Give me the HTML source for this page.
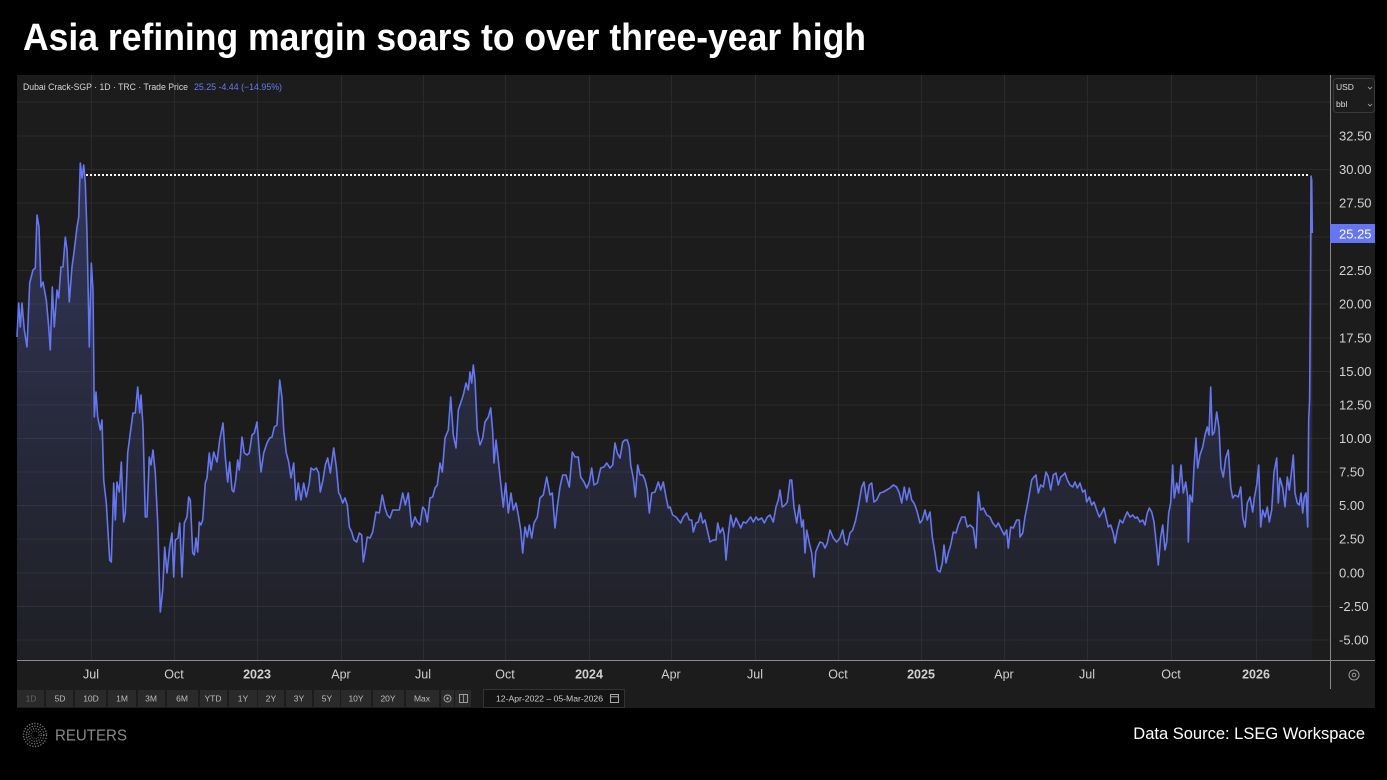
<!DOCTYPE html>
<html><head><meta charset="utf-8"><style>
html,body{margin:0;padding:0;background:#000;}
svg{display:block;}
</style></head><body>
<svg width="1387" height="780" viewBox="0 0 1387 780" xmlns="http://www.w3.org/2000/svg" font-family="Liberation Sans, sans-serif">
<defs>
<linearGradient id="fg" x1="0" y1="165" x2="0" y2="660" gradientUnits="userSpaceOnUse">
<stop offset="0" stop-color="#6272e8" stop-opacity="0.30"/>
<stop offset="1" stop-color="#6272e8" stop-opacity="0.04"/>
</linearGradient>
</defs>
<rect x="0" y="0" width="1387" height="780" fill="#000"/>
<text x="23" y="50" font-size="38" font-weight="bold" fill="#fff" textLength="843" lengthAdjust="spacingAndGlyphs">Asia refining margin soars to over three-year high</text>

<rect x="17" y="75" width="1358" height="633" fill="#1c1c1c"/>

<g stroke="#2a2a2a" stroke-width="1">
<line x1="17" y1="102" x2="1330" y2="102"/>
<line x1="17" y1="136" x2="1330" y2="136"/>
<line x1="17" y1="169.5" x2="1330" y2="169.5"/>
<line x1="17" y1="203" x2="1330" y2="203"/>
<line x1="17" y1="237" x2="1330" y2="237"/>
<line x1="17" y1="270.5" x2="1330" y2="270.5"/>
<line x1="17" y1="304" x2="1330" y2="304"/>
<line x1="17" y1="338" x2="1330" y2="338"/>
<line x1="17" y1="371.5" x2="1330" y2="371.5"/>
<line x1="17" y1="405" x2="1330" y2="405"/>
<line x1="17" y1="438.5" x2="1330" y2="438.5"/>
<line x1="17" y1="472" x2="1330" y2="472"/>
<line x1="17" y1="505.5" x2="1330" y2="505.5"/>
<line x1="17" y1="539" x2="1330" y2="539"/>
<line x1="17" y1="573" x2="1330" y2="573"/>
<line x1="17" y1="606.5" x2="1330" y2="606.5"/>
<line x1="17" y1="640" x2="1330" y2="640"/>
<line x1="91.5" y1="75" x2="91.5" y2="660"/>
<line x1="174.5" y1="75" x2="174.5" y2="660"/>
<line x1="257.5" y1="75" x2="257.5" y2="660"/>
<line x1="341.5" y1="75" x2="341.5" y2="660"/>
<line x1="423.5" y1="75" x2="423.5" y2="660"/>
<line x1="505.5" y1="75" x2="505.5" y2="660"/>
<line x1="589.5" y1="75" x2="589.5" y2="660"/>
<line x1="671.5" y1="75" x2="671.5" y2="660"/>
<line x1="755.5" y1="75" x2="755.5" y2="660"/>
<line x1="838.5" y1="75" x2="838.5" y2="660"/>
<line x1="921.5" y1="75" x2="921.5" y2="660"/>
<line x1="1004.5" y1="75" x2="1004.5" y2="660"/>
<line x1="1087.5" y1="75" x2="1087.5" y2="660"/>
<line x1="1171.5" y1="75" x2="1171.5" y2="660"/>
<line x1="1256.5" y1="75" x2="1256.5" y2="660"/>
</g>

<text x="23" y="90" font-size="9" fill="#d6d6d6" textLength="165" lengthAdjust="spacingAndGlyphs">Dubai Crack-SGP · 1D · TRC · Trade Price</text>
<text x="194" y="90" font-size="9" fill="#6b7bf0" textLength="88" lengthAdjust="spacingAndGlyphs">25.25  -4.44 (−14.95%)</text>

<polygon fill="url(#fg)" points="17,660 17,337 18.7,303 20.3,327 22,303 24.3,330 27,347 29.7,283 33,270 35.3,268 37,215 39,227 41,287 43,282 46.3,300 48.7,327 50.3,350 52.3,287 54.3,327 57,290 58.7,298 61,267 63,267 65.3,237 67,250 69.3,302 72,267 74.3,250 77,227 78.7,217 80.3,163 82,178 83.7,165 85.3,183 87,233 89.3,347 91.3,263 93,290 94.3,417 96,392 97.7,417 100.3,430 102,420 103.7,480 106.3,503 109.7,560 111.3,562 113.7,483 115.3,520 117,482 119.3,492 121.3,462 123.7,522 125.3,513 127.7,453 130.3,433 133,413 135.3,413 137.7,387 139.7,413 141,395 143,427 145.3,517 147,517 149.3,457 151,465 153,450 155.3,473 157.7,523 160.3,612 162.7,590 164.7,547 167,573 169.7,547 172,533 173.7,577 175.3,540 178,538 179.7,523 182,577 184.3,523 187,517 188.7,497 190.3,500 192.7,553 194.3,555 196,538 197.7,552 199.3,522 201,525 202.7,520 205.3,483 207,478 209.3,453 211,470 213.7,452 217,462 219.7,440 223,423 225.3,457 227.7,482 229.7,462 232,490 233.7,492 235.7,480 237.7,460 239.3,470 242,437 244.3,453 247,455 249.3,453 252,435 254.3,433 257,422 259.3,452 261,472 263.7,453 267,443 269.7,438 272,437 274.3,427 277,425 279.7,380 282,398 283.7,430 286.3,453 288.7,462 291,478 293.7,463 296,500 298.3,483 301,500 303.7,483 306.3,497 309.3,483 311,468 313.7,470 316.3,468 318.7,473 320.3,492 323,480 325.3,465 327.7,458 330.3,473 333.7,448 336.3,467 338.7,493 340,495 342.7,503 345,498 347.3,505 349.3,527 351.7,532 354,540 356.7,542 359.3,533 361.7,535 363.3,562 365.3,550 367.3,537 370,538 372.7,532 376,512 379.3,513 382.3,495 385,508 387.3,515 390,518 392.7,510 396,510 399.3,510 402.7,493 405.3,505 408.3,493 411.7,527 415,517 417.3,522 420,525 422.7,507 425,510 427.3,522 430,498 432.7,497 435,488 437.3,485 440,463 442.3,472 445,438 448.3,430 450.7,397 453.3,435 456,448 458.3,410 460.7,403 463.3,395 466,383 468.3,390 470,372 471.7,383 473.3,365 475,380 477.3,430 480,445 482.7,438 485,422 488.3,417 490.7,408 492.7,432 494,463 496,440 498.3,460 500.7,483 503.3,507 505.7,483 508.3,513 511,493 513.3,510 516,503 518.3,515 520.7,530 522.7,553 525,527 527.3,537 529.3,525 531.7,538 534,523 537.3,517 540,498 543.3,495 546.7,477 550,495 552.3,493 555,528 557.3,507 560,487 562.7,475 566,475 569.3,487 572.3,452 575,457 578.3,457 580.7,477 584,482 586.7,488 589.3,482 591.7,468 594,485 597.3,483 600.7,468 604,467 606.7,463 610,468 612.7,465 615,443 617.3,453 620,458 622.7,442 625,440 627.3,440 629.3,447 630.7,465 633.3,478 635.3,497 637.7,465 640,475 642.7,475 645,480 647.3,490 649.3,513 651.7,493 655,492 658.3,482 660.7,490 663.3,482 666,497 668.3,508 670,507 672.7,515 676,517 678.3,520 680.7,523 683.3,517 686.7,513 689.3,520 691.7,520 693.3,532 696,523 698.3,522 700.7,513 702.7,523 705,520 707.3,530 710,542 713.3,540 716,540 717.7,523 720,533 722.7,528 724.3,535 726,560 728.3,535 730.7,515 733.3,527 736,518 738.3,523 740.7,528 743.3,522 746,523 748.3,520 750.7,517 753.3,522 756,517 758.3,520 761.7,518 764.3,523 767.3,517 770,515 773.3,522 776,507 778.3,500 780,490 782.3,507 785,505 787.3,502 790,480 791.7,480 794,507 796.7,523 799.3,505 801.7,527 803.3,520 805,553 806.7,530 809.3,543 811.7,553 814,577 815.7,552 817.7,547 820,542 822.7,543 825,548 827.3,543 830,530 833.3,538 836.7,542 840,538 842.7,530 845,543 847.3,545 850,533 852.7,530 855.7,520 858.3,507 861.7,487 864,482 866.7,502 869.3,485 871.7,483 874,502 876.7,500 880,493 883.3,492 886.7,490 890,488 893.3,485 896.7,487 899.3,493 901.7,503 904.3,487 906.7,500 909.3,488 911.7,500 914,503 916.7,510 920,523 922.3,520 925,510 927.3,520 930,512 932.3,537 935,553 937.3,570 940,572 942.3,563 944,545 946,563 948.3,553 950.7,545 953.3,532 956,533 958.3,525 961.7,517 965,517 967.3,527 970,525 973.3,528 976,548 978.3,492 980.7,510 983.3,508 986.7,515 990,517 992.7,523 996,527 998.3,523 1001.7,530 1004.3,535 1006.7,530 1008.3,548 1010.7,527 1013.3,528 1016.7,520 1019.3,520 1020,537 1022.7,533 1025,517 1028.3,500 1031.7,480 1034,477 1036,475 1038.3,493 1040.7,485 1043.3,487 1046,472 1048.3,477 1050.7,490 1053.3,475 1056,473 1058.3,485 1060.7,477 1063.3,475 1065,473 1067.3,480 1070,485 1072.7,487 1075,482 1077.3,488 1080,483 1082.7,492 1085,490 1086.7,502 1089.3,497 1091.7,505 1094,502 1096.7,510 1099.3,517 1101.7,513 1104,508 1106,517 1108.3,527 1110.7,525 1113.3,533 1115,543 1117.3,530 1120,520 1122.7,523 1125,517 1127.3,512 1130,517 1132.7,515 1135,518 1137.3,517 1140,522 1142.7,520 1145,525 1147.3,513 1149.3,508 1151.7,512 1154,522 1156.7,547 1158.3,565 1160.7,537 1162.7,525 1165,550 1166.7,542 1168.7,513 1170.7,503 1172.7,465 1174.3,498 1176.7,483 1178.7,493 1181,465 1183.3,493 1185.7,482 1187.7,497 1188.3,542 1190,495 1192.3,502 1194,467 1196,438 1197.7,468 1200,455 1202.7,447 1205,435 1207.3,427 1209,435 1210.7,387 1212.3,435 1214.3,432 1216.7,412 1219,428 1221,468 1223.3,477 1225.7,458 1228.3,450 1230.7,487 1232.7,498 1235,495 1238.3,497 1240.7,487 1242.7,517 1245,527 1247.3,503 1250,497 1252.7,512 1254.3,498 1256.7,485 1258.7,465 1260.7,527 1262.7,510 1265,517 1267.3,507 1269.3,522 1271.7,510 1274,472 1276.7,458 1278.3,503 1280,478 1282.7,488 1285,507 1287.3,477 1289.3,490 1291.7,470 1293.3,455 1295,493 1297.3,503 1299.3,505 1301,493 1302.7,513 1304.3,497 1306,493 1307.7,527 1308.7,420 1309.6,400 1310.4,300 1311,176 1311.7,180 1312.3,233 1312.3,660"/>

<polyline fill="none" stroke="#6676ee" stroke-width="1.6" stroke-linejoin="round" points="17,337 18.7,303 20.3,327 22,303 24.3,330 27,347 29.7,283 33,270 35.3,268 37,215 39,227 41,287 43,282 46.3,300 48.7,327 50.3,350 52.3,287 54.3,327 57,290 58.7,298 61,267 63,267 65.3,237 67,250 69.3,302 72,267 74.3,250 77,227 78.7,217 80.3,163 82,178 83.7,165 85.3,183 87,233 89.3,347 91.3,263 93,290 94.3,417 96,392 97.7,417 100.3,430 102,420 103.7,480 106.3,503 109.7,560 111.3,562 113.7,483 115.3,520 117,482 119.3,492 121.3,462 123.7,522 125.3,513 127.7,453 130.3,433 133,413 135.3,413 137.7,387 139.7,413 141,395 143,427 145.3,517 147,517 149.3,457 151,465 153,450 155.3,473 157.7,523 160.3,612 162.7,590 164.7,547 167,573 169.7,547 172,533 173.7,577 175.3,540 178,538 179.7,523 182,577 184.3,523 187,517 188.7,497 190.3,500 192.7,553 194.3,555 196,538 197.7,552 199.3,522 201,525 202.7,520 205.3,483 207,478 209.3,453 211,470 213.7,452 217,462 219.7,440 223,423 225.3,457 227.7,482 229.7,462 232,490 233.7,492 235.7,480 237.7,460 239.3,470 242,437 244.3,453 247,455 249.3,453 252,435 254.3,433 257,422 259.3,452 261,472 263.7,453 267,443 269.7,438 272,437 274.3,427 277,425 279.7,380 282,398 283.7,430 286.3,453 288.7,462 291,478 293.7,463 296,500 298.3,483 301,500 303.7,483 306.3,497 309.3,483 311,468 313.7,470 316.3,468 318.7,473 320.3,492 323,480 325.3,465 327.7,458 330.3,473 333.7,448 336.3,467 338.7,493 340,495 342.7,503 345,498 347.3,505 349.3,527 351.7,532 354,540 356.7,542 359.3,533 361.7,535 363.3,562 365.3,550 367.3,537 370,538 372.7,532 376,512 379.3,513 382.3,495 385,508 387.3,515 390,518 392.7,510 396,510 399.3,510 402.7,493 405.3,505 408.3,493 411.7,527 415,517 417.3,522 420,525 422.7,507 425,510 427.3,522 430,498 432.7,497 435,488 437.3,485 440,463 442.3,472 445,438 448.3,430 450.7,397 453.3,435 456,448 458.3,410 460.7,403 463.3,395 466,383 468.3,390 470,372 471.7,383 473.3,365 475,380 477.3,430 480,445 482.7,438 485,422 488.3,417 490.7,408 492.7,432 494,463 496,440 498.3,460 500.7,483 503.3,507 505.7,483 508.3,513 511,493 513.3,510 516,503 518.3,515 520.7,530 522.7,553 525,527 527.3,537 529.3,525 531.7,538 534,523 537.3,517 540,498 543.3,495 546.7,477 550,495 552.3,493 555,528 557.3,507 560,487 562.7,475 566,475 569.3,487 572.3,452 575,457 578.3,457 580.7,477 584,482 586.7,488 589.3,482 591.7,468 594,485 597.3,483 600.7,468 604,467 606.7,463 610,468 612.7,465 615,443 617.3,453 620,458 622.7,442 625,440 627.3,440 629.3,447 630.7,465 633.3,478 635.3,497 637.7,465 640,475 642.7,475 645,480 647.3,490 649.3,513 651.7,493 655,492 658.3,482 660.7,490 663.3,482 666,497 668.3,508 670,507 672.7,515 676,517 678.3,520 680.7,523 683.3,517 686.7,513 689.3,520 691.7,520 693.3,532 696,523 698.3,522 700.7,513 702.7,523 705,520 707.3,530 710,542 713.3,540 716,540 717.7,523 720,533 722.7,528 724.3,535 726,560 728.3,535 730.7,515 733.3,527 736,518 738.3,523 740.7,528 743.3,522 746,523 748.3,520 750.7,517 753.3,522 756,517 758.3,520 761.7,518 764.3,523 767.3,517 770,515 773.3,522 776,507 778.3,500 780,490 782.3,507 785,505 787.3,502 790,480 791.7,480 794,507 796.7,523 799.3,505 801.7,527 803.3,520 805,553 806.7,530 809.3,543 811.7,553 814,577 815.7,552 817.7,547 820,542 822.7,543 825,548 827.3,543 830,530 833.3,538 836.7,542 840,538 842.7,530 845,543 847.3,545 850,533 852.7,530 855.7,520 858.3,507 861.7,487 864,482 866.7,502 869.3,485 871.7,483 874,502 876.7,500 880,493 883.3,492 886.7,490 890,488 893.3,485 896.7,487 899.3,493 901.7,503 904.3,487 906.7,500 909.3,488 911.7,500 914,503 916.7,510 920,523 922.3,520 925,510 927.3,520 930,512 932.3,537 935,553 937.3,570 940,572 942.3,563 944,545 946,563 948.3,553 950.7,545 953.3,532 956,533 958.3,525 961.7,517 965,517 967.3,527 970,525 973.3,528 976,548 978.3,492 980.7,510 983.3,508 986.7,515 990,517 992.7,523 996,527 998.3,523 1001.7,530 1004.3,535 1006.7,530 1008.3,548 1010.7,527 1013.3,528 1016.7,520 1019.3,520 1020,537 1022.7,533 1025,517 1028.3,500 1031.7,480 1034,477 1036,475 1038.3,493 1040.7,485 1043.3,487 1046,472 1048.3,477 1050.7,490 1053.3,475 1056,473 1058.3,485 1060.7,477 1063.3,475 1065,473 1067.3,480 1070,485 1072.7,487 1075,482 1077.3,488 1080,483 1082.7,492 1085,490 1086.7,502 1089.3,497 1091.7,505 1094,502 1096.7,510 1099.3,517 1101.7,513 1104,508 1106,517 1108.3,527 1110.7,525 1113.3,533 1115,543 1117.3,530 1120,520 1122.7,523 1125,517 1127.3,512 1130,517 1132.7,515 1135,518 1137.3,517 1140,522 1142.7,520 1145,525 1147.3,513 1149.3,508 1151.7,512 1154,522 1156.7,547 1158.3,565 1160.7,537 1162.7,525 1165,550 1166.7,542 1168.7,513 1170.7,503 1172.7,465 1174.3,498 1176.7,483 1178.7,493 1181,465 1183.3,493 1185.7,482 1187.7,497 1188.3,542 1190,495 1192.3,502 1194,467 1196,438 1197.7,468 1200,455 1202.7,447 1205,435 1207.3,427 1209,435 1210.7,387 1212.3,435 1214.3,432 1216.7,412 1219,428 1221,468 1223.3,477 1225.7,458 1228.3,450 1230.7,487 1232.7,498 1235,495 1238.3,497 1240.7,487 1242.7,517 1245,527 1247.3,503 1250,497 1252.7,512 1254.3,498 1256.7,485 1258.7,465 1260.7,527 1262.7,510 1265,517 1267.3,507 1269.3,522 1271.7,510 1274,472 1276.7,458 1278.3,503 1280,478 1282.7,488 1285,507 1287.3,477 1289.3,490 1291.7,470 1293.3,455 1295,493 1297.3,503 1299.3,505 1301,493 1302.7,513 1304.3,497 1306,493 1307.7,527 1308.7,420 1309.6,400 1310.4,300 1311,176 1311.7,180 1312.3,233"/>

<line x1="86" y1="175" x2="1310" y2="175" stroke="#ffffff" stroke-width="2" stroke-dasharray="2 2"/>

<line x1="1330.5" y1="75" x2="1330.5" y2="689" stroke="#8a8a8a" stroke-width="1"/>
<line x1="17" y1="660.5" x2="1375" y2="660.5" stroke="#8a8a8a" stroke-width="1"/>

<g font-size="13" fill="#d2d2d2">
<text x="1339" y="140.5">32.50</text>
<text x="1339" y="174">30.00</text>
<text x="1339" y="207.5">27.50</text>
<text x="1339" y="275">22.50</text>
<text x="1339" y="308.5">20.00</text>
<text x="1339" y="342.5">17.50</text>
<text x="1339" y="376">15.00</text>
<text x="1339" y="409.5">12.50</text>
<text x="1339" y="443">10.00</text>
<text x="1339" y="476.5">7.50</text>
<text x="1339" y="510">5.00</text>
<text x="1339" y="543.5">2.50</text>
<text x="1339" y="577.5">0.00</text>
<text x="1339" y="611">-2.50</text>
<text x="1339" y="644.5">-5.00</text>
</g>
<rect x="1330" y="224" width="45" height="19" fill="#6675f2"/>
<text x="1339" y="238.5" font-size="13" fill="#ffffff">25.25</text>

<rect x="1333.5" y="78.5" width="41" height="34" rx="3" fill="#1c1c1c" stroke="#3a3a3a"/>
<text x="1336" y="90" font-size="8.5" fill="#dddddd">USD</text>
<text x="1336" y="107" font-size="8.5" fill="#dddddd">bbl</text>
<path d="M1368 87 l2 2 l2 -2 M1368 104 l2 2 l2 -2" stroke="#aaa" stroke-width="0.8" fill="none"/>

<g font-size="12.5" fill="#d0d0d0" text-anchor="middle">
<text x="91" y="678.5">Jul</text>
<text x="174" y="678.5">Oct</text>
<text x="257" y="678.5" font-weight="bold">2023</text>
<text x="341" y="678.5">Apr</text>
<text x="423" y="678.5">Jul</text>
<text x="505" y="678.5">Oct</text>
<text x="589" y="678.5" font-weight="bold">2024</text>
<text x="671" y="678.5">Apr</text>
<text x="755" y="678.5">Jul</text>
<text x="838" y="678.5">Oct</text>
<text x="921" y="678.5" font-weight="bold">2025</text>
<text x="1004" y="678.5">Apr</text>
<text x="1087" y="678.5">Jul</text>
<text x="1171" y="678.5">Oct</text>
<text x="1256" y="678.5" font-weight="bold">2026</text>
</g>
<circle cx="1354" cy="675" r="5" fill="none" stroke="#999" stroke-width="1"/>
<circle cx="1354" cy="675" r="1.8" fill="none" stroke="#999" stroke-width="1"/>

<g fill="#2a2a2a">
<rect x="17" y="690" width="27" height="17"/>
<rect x="46" y="690" width="27" height="17"/>
<rect x="75" y="690" width="31" height="17"/>
<rect x="108" y="690" width="28" height="17"/>
<rect x="138" y="690" width="27" height="17"/>
<rect x="167" y="690" width="31" height="17"/>
<rect x="200" y="690" width="27" height="17"/>
<rect x="229" y="690" width="28" height="17"/>
<rect x="258" y="690" width="26" height="17"/>
<rect x="286" y="690" width="26" height="17"/>
<rect x="314" y="690" width="26" height="17"/>
<rect x="341" y="690" width="30" height="17"/>
<rect x="373" y="690" width="31" height="17"/>
<rect x="406" y="690" width="33" height="17"/>
<rect x="441" y="690" width="13" height="17"/>
<rect x="455" y="690" width="16" height="17"/>
</g>
<g font-size="8.5" fill="#bdbdbd" text-anchor="middle">
<text x="31" y="701.5" fill="#666">1D</text>
<text x="60" y="701.5">5D</text>
<text x="91" y="701.5">10D</text>
<text x="122" y="701.5">1M</text>
<text x="151" y="701.5">3M</text>
<text x="182" y="701.5">6M</text>
<text x="213" y="701.5">YTD</text>
<text x="243" y="701.5">1Y</text>
<text x="271" y="701.5">2Y</text>
<text x="299" y="701.5">3Y</text>
<text x="327" y="701.5">5Y</text>
<text x="356" y="701.5">10Y</text>
<text x="388" y="701.5">20Y</text>
<text x="422" y="701.5">Max</text>
</g>
<circle cx="447.5" cy="698.5" r="3.5" fill="none" stroke="#aaa" stroke-width="0.9"/>
<circle cx="447.5" cy="698.5" r="1.2" fill="#aaa"/>
<rect x="459.5" y="694.5" width="8" height="8" fill="none" stroke="#aaa" stroke-width="0.9"/>
<line x1="463.5" y1="694.5" x2="463.5" y2="702.5" stroke="#aaa" stroke-width="0.8"/>
<rect x="483.5" y="689.5" width="141" height="18" fill="#141414" stroke="#333"/>
<text x="496" y="701.5" font-size="8.5" fill="#cfcfcf" textLength="107" lengthAdjust="spacingAndGlyphs">12-Apr-2022  –  05-Mar-2026</text>
<rect x="610.5" y="694.5" width="8" height="8" fill="none" stroke="#bbb" stroke-width="0.9"/>
<line x1="610.5" y1="696.8" x2="618.5" y2="696.8" stroke="#bbb" stroke-width="0.9"/>

<g fill="none" stroke="#7a7a7a">
<circle cx="35" cy="735" r="11.5" stroke-width="1.4" stroke-dasharray="1.2 1.6"/>
<circle cx="35" cy="735" r="8.8" stroke-width="1.3" stroke-dasharray="1.2 1.5"/>
<circle cx="35" cy="735" r="6.3" stroke-width="1.2" stroke-dasharray="1.1 1.4"/>
<circle cx="35" cy="735" r="4" stroke-width="0.8" stroke-dasharray="1 1.2"/>
</g>
<text x="55" y="740.5" font-size="15.5" fill="#8a8a8a" textLength="72" lengthAdjust="spacingAndGlyphs">REUTERS</text>

<text x="1365" y="739" font-size="16.5" fill="#ffffff" text-anchor="end">Data Source: LSEG Workspace</text>
</svg>
</body></html>
